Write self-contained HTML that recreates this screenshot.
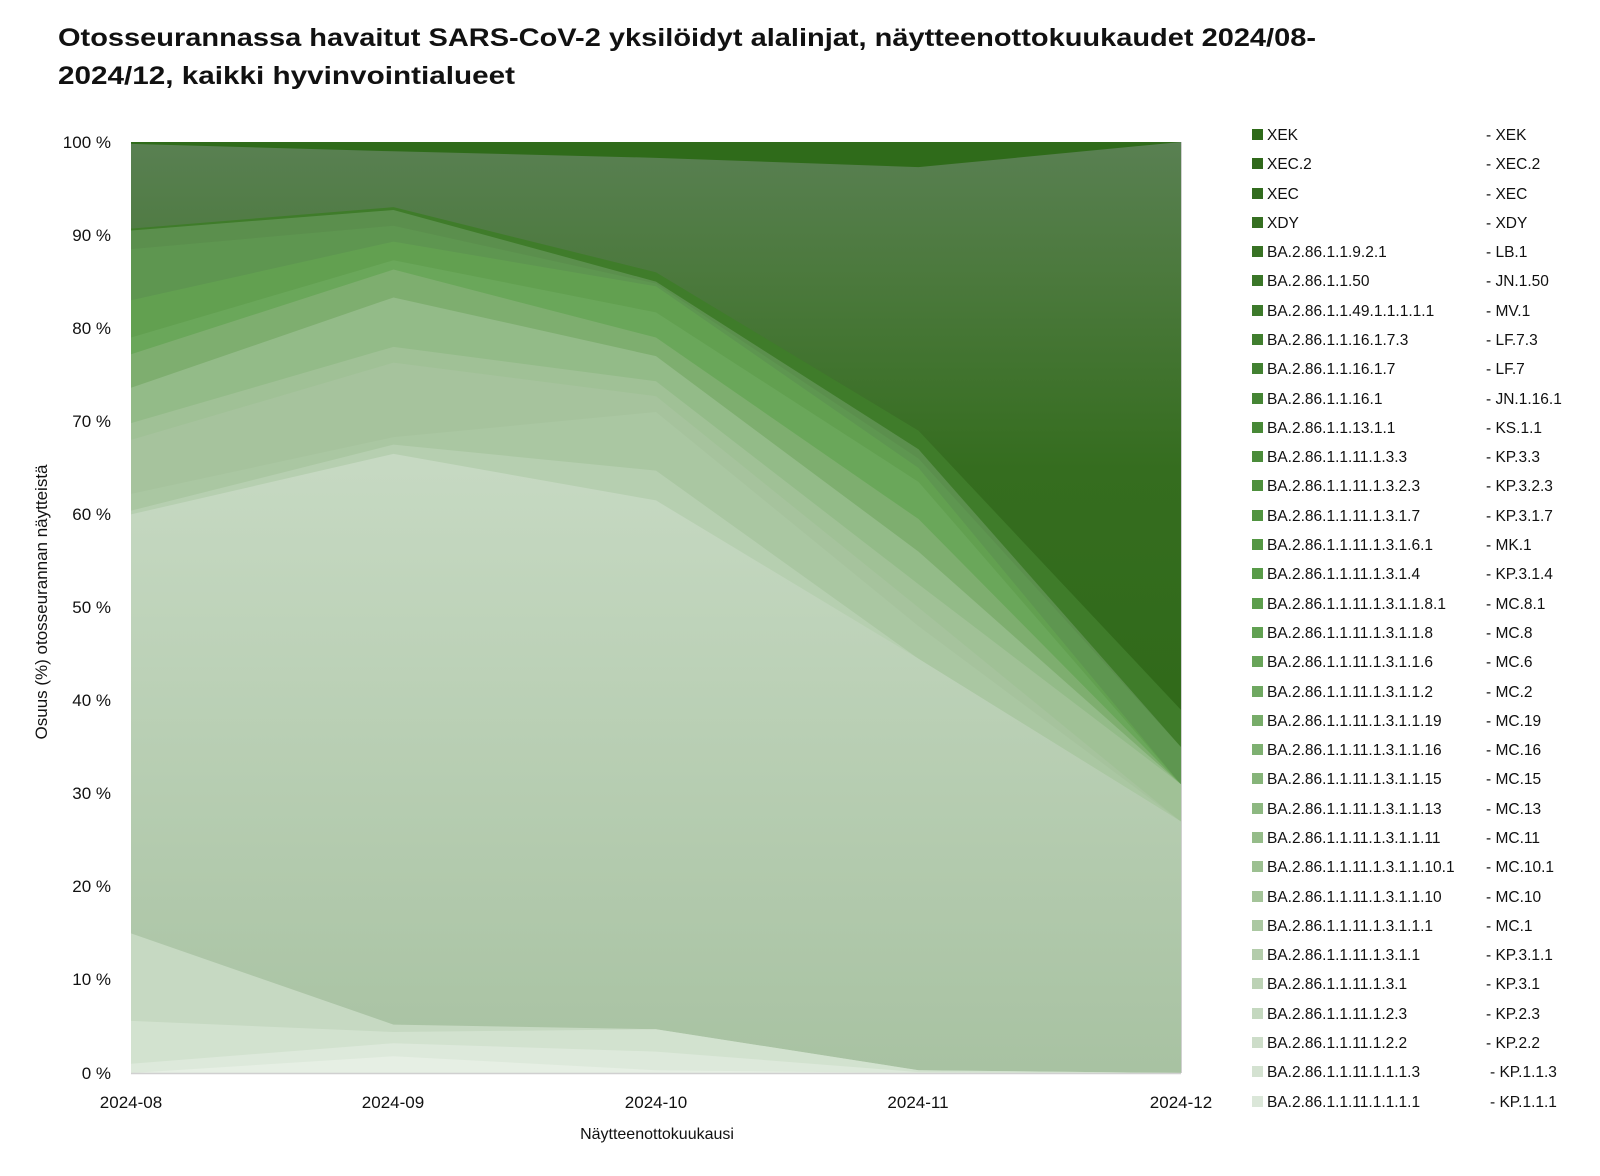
<!DOCTYPE html>
<html><head><meta charset="utf-8"><style>
html,body{margin:0;padding:0;background:#fff;}
svg{display:block;font-family:"Liberation Sans",sans-serif;}
</style></head><body>
<svg width="1600" height="1176" viewBox="0 0 1600 1176" xmlns="http://www.w3.org/2000/svg">
<defs>
<linearGradient id="gd" gradientUnits="userSpaceOnUse" x1="0" y1="100" x2="0" y2="0">
<stop offset="0" stop-color="#598052"/><stop offset="0.15" stop-color="#4b793c"/><stop offset="0.35" stop-color="#356d1f"/><stop offset="1" stop-color="#2a6512"/></linearGradient>
<linearGradient id="gl" gradientUnits="userSpaceOnUse" x1="0" y1="65" x2="0" y2="0">
<stop offset="0" stop-color="#c6d9c2"/><stop offset="1" stop-color="#a8c2a2"/></linearGradient>
</defs>
<text x="58" y="46" font-size="25" font-weight="bold" fill="#111" textLength="1258" lengthAdjust="spacingAndGlyphs">Otosseurannassa havaitut SARS-CoV-2 yksilöidyt alalinjat, näytteenottokuukaudet 2024/08-</text>
<text x="58" y="84" font-size="25" font-weight="bold" fill="#111" textLength="457" lengthAdjust="spacingAndGlyphs">2024/12, kaikki hyvinvointialueet</text>
<g transform="translate(131,1073) scale(262.5,-9.31)">
<polygon fill="#2f6b1a" points="0,100 1,100 2,100 3,100 4,100 4,0 0,0"/>
<polygon fill="url(#gd)" points="0,99.8 1,99 2,98.3 3,97.3 4,100 4,0 0,0"/>
<polygon fill="url(#gd)" points="0,92.5 1,95 2,88 3,70 4,47 4,0 0,0"/>
<polygon fill="#3f7c2a" points="0,90.7 1,93 2,86 3,69 4,39 4,0 0,0"/>
<polygon fill="#5b8f4d" points="0,90.5 1,92.7 2,85 3,67 4,35 4,0 0,0"/>
<polygon fill="#5e9650" points="0,88.5 1,91 2,84.8 3,66 4,35 4,0 0,0"/>
<polygon fill="#62a050" points="0,83 1,89.3 2,84.5 3,65 4,31 4,0 0,0"/>
<polygon fill="#6aa75a" points="0,79 1,87.3 2,81.7 3,63.5 4,31 4,0 0,0"/>
<polygon fill="#7eae6f" points="0,77.2 1,86.3 2,79 3,59.5 4,31 4,0 0,0"/>
<polygon fill="#93bb88" points="0,73.6 1,83.3 2,77 3,56 4,31 4,0 0,0"/>
<polygon fill="#a0c196" points="0,69.8 1,78 2,74.3 3,52.5 4,31 4,0 0,0"/>
<polygon fill="#a6c39d" points="0,68 1,76.3 2,72.7 3,50 4,27 4,0 0,0"/>
<polygon fill="#aac7a2" points="0,62.2 1,68.3 2,71 3,48 4,27 4,0 0,0"/>
<polygon fill="#b6cfb0" points="0,60.4 1,67.5 2,64.7 3,44.5 4,27 4,0 0,0"/>
<polygon fill="url(#gl)" points="0,60 1,66.5 2,61.5 3,44.5 4,27 4,0 0,0"/>
<polygon fill="#c6d9c2" points="0,15 1,5.2 2,4.7 3,0.3 4,0 4,0 0,0"/>
<polygon fill="#d2e2cf" points="0,5.6 1,4.4 2,4.7 3,0.3 4,0 4,0 0,0"/>
<polygon fill="#dde9db" points="0,1 1,3.2 2,2.3 3,0.1 4,0 4,0 0,0"/>
<polygon fill="#e6efe4" points="0,0 1,1.8 2,0.3 3,0 4,0 4,0 0,0"/>
</g>
<line x1="131" y1="1073.5" x2="1181" y2="1073.5" stroke="#d0d0d0" stroke-width="1.5"/>
<line x1="1181.5" y1="142" x2="1181.5" y2="1073" stroke="#d0d0d0" stroke-width="1"/>
<g font-size="17" fill="#111" text-anchor="end">
<text x="111" y="148">100 %</text><text x="111" y="241">90 %</text><text x="111" y="334">80 %</text>
<text x="111" y="427">70 %</text><text x="111" y="520">60 %</text><text x="111" y="613">50 %</text>
<text x="111" y="706">40 %</text><text x="111" y="799">30 %</text><text x="111" y="892">20 %</text>
<text x="111" y="985">10 %</text><text x="111" y="1079">0 %</text>
</g>
<g font-size="17" fill="#111" text-anchor="middle">
<text x="131" y="1108">2024-08</text><text x="393" y="1108">2024-09</text><text x="656" y="1108">2024-10</text>
<text x="918" y="1108">2024-11</text><text x="1181" y="1108">2024-12</text>
<text x="657" y="1139" font-size="16">Näytteenottokuukausi</text>
<text transform="translate(47,602) rotate(-90)" font-size="17">Osuus (%) otosseurannan näytteistä</text>
</g>
<g font-size="15.5" fill="#111">
<rect x="1252" y="129" width="11" height="11" fill="#2e6a19"/><text x="1267" y="140">XEK</text><text x="1486" y="140">- XEK</text>
<rect x="1252" y="158" width="11" height="11" fill="#30691b"/><text x="1267" y="169">XEC.2</text><text x="1486" y="169">- XEC.2</text>
<rect x="1252" y="188" width="11" height="11" fill="#326c1e"/><text x="1267" y="199">XEC</text><text x="1486" y="199">- XEC</text>
<rect x="1252" y="217" width="11" height="11" fill="#356f21"/><text x="1267" y="228">XDY</text><text x="1486" y="228">- XDY</text>
<rect x="1252" y="246" width="11" height="11" fill="#387224"/><text x="1267" y="257">BA.2.86.1.1.9.2.1</text><text x="1486" y="257">- LB.1</text>
<rect x="1252" y="275" width="11" height="11" fill="#3a7628"/><text x="1267" y="286">BA.2.86.1.1.50</text><text x="1486" y="286">- JN.1.50</text>
<rect x="1252" y="305" width="11" height="11" fill="#3d7a2b"/><text x="1267" y="316">BA.2.86.1.1.49.1.1.1.1.1</text><text x="1486" y="316">- MV.1</text>
<rect x="1252" y="334" width="11" height="11" fill="#407e2e"/><text x="1267" y="345">BA.2.86.1.1.16.1.7.3</text><text x="1486" y="345">- LF.7.3</text>
<rect x="1252" y="363" width="11" height="11" fill="#428131"/><text x="1267" y="374">BA.2.86.1.1.16.1.7</text><text x="1486" y="374">- LF.7</text>
<rect x="1252" y="393" width="11" height="11" fill="#458534"/><text x="1267" y="404">BA.2.86.1.1.16.1</text><text x="1486" y="404">- JN.1.16.1</text>
<rect x="1252" y="422" width="11" height="11" fill="#488937"/><text x="1267" y="433">BA.2.86.1.1.13.1.1</text><text x="1486" y="433">- KS.1.1</text>
<rect x="1252" y="451" width="11" height="11" fill="#4b8c3a"/><text x="1267" y="462">BA.2.86.1.1.11.1.3.3</text><text x="1486" y="462">- KP.3.3</text>
<rect x="1252" y="480" width="11" height="11" fill="#4e903d"/><text x="1267" y="491">BA.2.86.1.1.11.1.3.2.3</text><text x="1486" y="491">- KP.3.2.3</text>
<rect x="1252" y="510" width="11" height="11" fill="#519440"/><text x="1267" y="521">BA.2.86.1.1.11.1.3.1.7</text><text x="1486" y="521">- KP.3.1.7</text>
<rect x="1252" y="539" width="11" height="11" fill="#549744"/><text x="1267" y="550">BA.2.86.1.1.11.1.3.1.6.1</text><text x="1486" y="550">- MK.1</text>
<rect x="1252" y="568" width="11" height="11" fill="#589b48"/><text x="1267" y="579">BA.2.86.1.1.11.1.3.1.4</text><text x="1486" y="579">- KP.3.1.4</text>
<rect x="1252" y="598" width="11" height="11" fill="#5c9e4c"/><text x="1267" y="609">BA.2.86.1.1.11.1.3.1.1.8.1</text><text x="1486" y="609">- MC.8.1</text>
<rect x="1252" y="627" width="11" height="11" fill="#61a152"/><text x="1267" y="638">BA.2.86.1.1.11.1.3.1.1.8</text><text x="1486" y="638">- MC.8</text>
<rect x="1252" y="656" width="11" height="11" fill="#68a459"/><text x="1267" y="667">BA.2.86.1.1.11.1.3.1.1.6</text><text x="1486" y="667">- MC.6</text>
<rect x="1252" y="686" width="11" height="11" fill="#6fa861"/><text x="1267" y="697">BA.2.86.1.1.11.1.3.1.1.2</text><text x="1486" y="697">- MC.2</text>
<rect x="1252" y="715" width="11" height="11" fill="#77ac69"/><text x="1267" y="726">BA.2.86.1.1.11.1.3.1.1.19</text><text x="1486" y="726">- MC.19</text>
<rect x="1252" y="744" width="11" height="11" fill="#7eb071"/><text x="1267" y="755">BA.2.86.1.1.11.1.3.1.1.16</text><text x="1486" y="755">- MC.16</text>
<rect x="1252" y="773" width="11" height="11" fill="#86b479"/><text x="1267" y="784">BA.2.86.1.1.11.1.3.1.1.15</text><text x="1486" y="784">- MC.15</text>
<rect x="1252" y="803" width="11" height="11" fill="#8db881"/><text x="1267" y="814">BA.2.86.1.1.11.1.3.1.1.13</text><text x="1486" y="814">- MC.13</text>
<rect x="1252" y="832" width="11" height="11" fill="#95bc89"/><text x="1267" y="843">BA.2.86.1.1.11.1.3.1.1.11</text><text x="1486" y="843">- MC.11</text>
<rect x="1252" y="861" width="11" height="11" fill="#9cc091"/><text x="1267" y="872">BA.2.86.1.1.11.1.3.1.1.10.1</text><text x="1486" y="872">- MC.10.1</text>
<rect x="1252" y="891" width="11" height="11" fill="#a4c499"/><text x="1267" y="902">BA.2.86.1.1.11.1.3.1.1.10</text><text x="1486" y="902">- MC.10</text>
<rect x="1252" y="920" width="11" height="11" fill="#abc8a2"/><text x="1267" y="931">BA.2.86.1.1.11.1.3.1.1.1</text><text x="1486" y="931">- MC.1</text>
<rect x="1252" y="949" width="11" height="11" fill="#b3ccab"/><text x="1267" y="960">BA.2.86.1.1.11.1.3.1.1</text><text x="1486" y="960">- KP.3.1.1</text>
<rect x="1252" y="978" width="11" height="11" fill="#bcd2b5"/><text x="1267" y="989">BA.2.86.1.1.11.1.3.1</text><text x="1486" y="989">- KP.3.1</text>
<rect x="1252" y="1008" width="11" height="11" fill="#c4d8bf"/><text x="1267" y="1019">BA.2.86.1.1.11.1.2.3</text><text x="1486" y="1019">- KP.2.3</text>
<rect x="1252" y="1037" width="11" height="11" fill="#cdddc9"/><text x="1267" y="1048">BA.2.86.1.1.11.1.2.2</text><text x="1486" y="1048">- KP.2.2</text>
<rect x="1252" y="1066" width="11" height="11" fill="#d4e2d1"/><text x="1267" y="1077">BA.2.86.1.1.11.1.1.1.3</text><text x="1490" y="1077">- KP.1.1.3</text>
<rect x="1252" y="1096" width="11" height="11" fill="#dbe7d9"/><text x="1267" y="1107">BA.2.86.1.1.11.1.1.1.1</text><text x="1490" y="1107">- KP.1.1.1</text>
</g>
</svg>
</body></html>
